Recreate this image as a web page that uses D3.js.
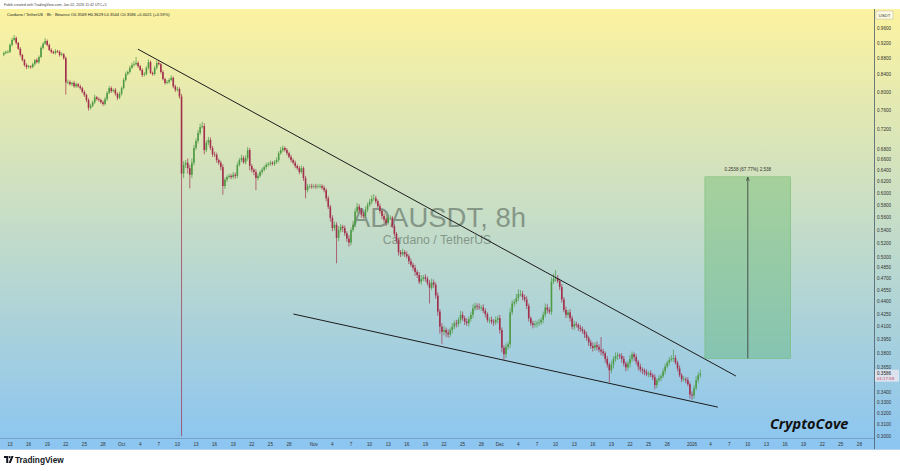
<!DOCTYPE html>
<html><head><meta charset="utf-8">
<script src="https://cdn.jsdelivr.net/npm/d3@7"></script>
<style>html,body{margin:0;padding:0;background:#fff;}svg{display:block;font-family:"Liberation Sans",Arial,sans-serif;}</style>
</head><body><svg id="c" width="900" height="471"></svg>
<script>
// ---------- DATA ----------
const startTime = Date.UTC(2025, 8, 12, 0); // first 8h candle
const candleHours = 8;
const firstOpen = 0.890;
const closes = [
0.894,0.897,0.897,0.915,0.928,0.933,0.920,0.905,0.889,0.876,
0.864,0.859,0.861,0.859,0.866,0.876,0.871,0.884,0.907,0.918,
0.925,0.915,0.902,0.897,0.894,0.899,0.897,0.889,0.891,0.881,
0.822,0.823,0.818,0.821,0.813,0.818,0.813,0.809,0.800,0.793,
0.782,0.765,0.769,0.777,0.788,0.784,0.782,0.777,0.773,0.784,
0.798,0.809,0.802,0.805,0.796,0.787,0.796,0.809,0.828,0.842,
0.847,0.857,0.864,0.866,0.869,0.861,0.852,0.840,0.842,0.857,
0.871,0.845,0.842,0.857,0.869,0.866,0.847,0.830,0.821,0.823,
0.828,0.833,0.813,0.805,0.807,0.790,0.634,0.650,0.654,0.644,
0.632,0.654,0.682,0.696,0.712,0.724,0.726,0.678,0.692,0.698,
0.682,0.670,0.669,0.659,0.654,0.646,0.612,0.623,0.628,0.630,
0.628,0.632,0.630,0.650,0.659,0.663,0.655,0.663,0.678,0.648,
0.641,0.637,0.626,0.630,0.637,0.641,0.646,0.650,0.652,0.654,
0.652,0.655,0.659,0.672,0.678,0.682,0.678,0.672,0.665,0.659,
0.654,0.648,0.644,0.637,0.644,0.626,0.605,0.611,0.612,0.611,
0.612,0.611,0.612,0.612,0.609,0.605,0.591,0.577,0.559,0.543,
0.548,0.528,0.540,0.545,0.543,0.535,0.527,0.521,0.540,0.548,
0.569,0.577,0.572,0.564,0.562,0.572,0.580,0.585,0.590,0.591,
0.586,0.578,0.570,0.562,0.556,0.551,0.559,0.559,0.546,0.534,
0.524,0.507,0.504,0.507,0.504,0.501,0.494,0.489,0.485,0.479,
0.475,0.466,0.470,0.472,0.470,0.464,0.458,0.465,0.462,0.448,
0.428,0.410,0.404,0.406,0.403,0.401,0.406,0.410,0.414,0.413,
0.418,0.424,0.420,0.416,0.414,0.419,0.424,0.432,0.435,0.434,
0.433,0.433,0.429,0.425,0.418,0.418,0.416,0.415,0.418,0.420,
0.406,0.386,0.379,0.387,0.390,0.427,0.438,0.440,0.445,0.450,
0.450,0.446,0.443,0.435,0.420,0.414,0.412,0.413,0.414,0.415,
0.418,0.424,0.433,0.430,0.428,0.466,0.470,0.471,0.467,0.459,
0.443,0.430,0.424,0.427,0.420,0.410,0.413,0.412,0.409,0.407,
0.405,0.401,0.397,0.392,0.388,0.386,0.389,0.387,0.384,0.382,
0.380,0.374,0.368,0.362,0.368,0.374,0.377,0.378,0.377,0.374,
0.369,0.365,0.369,0.374,0.379,0.376,0.371,0.366,0.363,0.362,
0.360,0.358,0.359,0.357,0.355,0.347,0.352,0.354,0.356,0.361,
0.366,0.370,0.373,0.374,0.375,0.370,0.364,0.357,0.353,0.353,
0.352,0.348,0.338,0.337,0.344,0.352,0.357,0.3586];
const upperWick = [
.004,.003,.005,.004,.006,.008,.004,.003,.004,.003,
.003,.004,.003,.002,.004,.003,.005,.004,.005,.004,
.008,.004,.003,.004,.003,.005,.003,.004,.005,.003,
.004,.006,.004,.003,.005,.004,.003,.004,.003,.004,
.003,.004,.005,.004,.006,.003,.004,.003,.004,.005,
.004,.005,.004,.003,.004,.003,.005,.004,.005,.006,
.004,.005,.006,.008,.015,.004,.003,.004,.005,.004,
.007,.004,.003,.005,.006,.004,.003,.004,.003,.005,
.004,.006,.003,.004,.005,.004,.006,.007,.005,.008,
.006,.008,.006,.005,.006,.007,.009,.006,.005,.006,
.005,.004,.005,.004,.003,.004,.005,.004,.003,.004,
.003,.005,.004,.005,.004,.006,.004,.005,.006,.004,
.004,.003,.005,.004,.003,.004,.003,.004,.003,.004,
.003,.004,.005,.004,.006,.005,.003,.004,.003,.004,
.003,.004,.003,.004,.005,.003,.004,.005,.003,.004,
.003,.004,.003,.004,.003,.004,.003,.004,.003,.004,
.005,.004,.006,.004,.003,.004,.003,.005,.004,.006,
.005,.006,.004,.003,.004,.005,.004,.005,.006,.007,
.004,.003,.004,.003,.004,.003,.005,.004,.003,.004,
.003,.004,.003,.005,.003,.004,.003,.004,.003,.004,
.003,.004,.005,.003,.004,.003,.004,.005,.004,.003,
.004,.003,.004,.005,.003,.004,.003,.004,.003,.004,
.003,.005,.004,.003,.004,.003,.004,.005,.004,.003,
.004,.003,.004,.003,.002,.003,.004,.003,.004,.003,
.004,.003,.003,.004,.003,.005,.004,.003,.005,.006,
.005,.004,.003,.004,.003,.002,.003,.004,.003,.004,
.003,.004,.005,.004,.003,.006,.007,.011,.004,.003,
.004,.003,.004,.003,.004,.003,.004,.003,.002,.003,
.003,.002,.003,.002,.003,.004,.003,.004,.003,.014,
.003,.002,.003,.002,.004,.003,.004,.003,.002,.003,
.003,.002,.003,.004,.003,.002,.003,.002,.003,.002,
.002,.003,.002,.003,.002,.003,.002,.003,.002,.003,
.003,.002,.003,.004,.009,.003,.002,.003,.002,.003,
.002,.003,.002,.003,.003,.004,.003,.0043];
const lowerWick = [
.004,.003,.004,.003,.004,.003,.004,.003,.004,.003,
.004,.005,.003,.004,.003,.004,.003,.004,.003,.004,
.003,.004,.003,.004,.003,.004,.003,.004,.003,.004,
.028,.004,.003,.004,.003,.004,.003,.004,.003,.004,
.005,.006,.004,.003,.004,.003,.004,.003,.004,.003,
.004,.003,.004,.003,.004,.005,.003,.004,.003,.004,
.003,.004,.003,.004,.003,.004,.003,.005,.004,.003,
.004,.003,.004,.003,.004,.003,.004,.003,.004,.003,
.004,.003,.004,.005,.004,.005,.334,.008,.006,.010,
.024,.006,.005,.004,.005,.004,.003,.008,.004,.005,
.004,.005,.004,.005,.004,.006,.015,.005,.004,.003,
.004,.003,.005,.004,.003,.004,.003,.004,.005,.008,
.005,.006,.021,.004,.003,.004,.003,.004,.003,.004,
.003,.004,.003,.004,.003,.004,.003,.004,.003,.004,
.003,.004,.003,.004,.003,.005,.014,.004,.003,.004,
.003,.004,.003,.004,.003,.004,.005,.004,.006,.005,
.004,.037,.005,.004,.006,.004,.005,.006,.004,.003,
.004,.003,.004,.005,.004,.003,.004,.003,.004,.003,
.004,.003,.004,.005,.004,.005,.003,.004,.003,.004,
.004,.005,.004,.003,.004,.003,.004,.003,.004,.005,
.004,.003,.004,.003,.004,.003,.020,.003,.004,.004,
.005,.008,.014,.004,.005,.004,.003,.004,.003,.004,
.003,.004,.003,.004,.003,.004,.003,.004,.003,.004,
.003,.004,.003,.004,.003,.004,.003,.004,.003,.004,
.004,.005,.006,.004,.003,.004,.003,.004,.003,.004,
.003,.004,.003,.004,.004,.003,.004,.003,.004,.003,
.003,.004,.003,.004,.003,.004,.003,.004,.003,.004,
.004,.003,.004,.003,.004,.003,.004,.003,.004,.003,
.003,.004,.003,.004,.003,.004,.003,.004,.003,.004,
.003,.004,.003,.012,.003,.004,.003,.004,.003,.004,
.003,.004,.003,.004,.003,.004,.003,.004,.003,.004,
.003,.002,.003,.002,.003,.004,.003,.002,.003,.002,
.003,.002,.003,.002,.003,.002,.003,.002,.003,.002,
.003,.002,.004,.004,.003,.002,.003,.0026];

const priceTicks = [0.96,0.92,0.88,0.84,0.80,0.76,0.72,0.68,0.66,0.64,0.62,0.60,0.58,0.56,0.54,0.52,0.50,
  0.485,0.47,0.455,0.44,0.425,0.41,0.395,0.38,0.365,0.34,0.33,0.32,0.31,0.30];
const tickDays = [1,4,7,10,13,16,19,22,25,28];
const tickMonths = [{y:2025,m:8,label:"Sep",from:13},{y:2025,m:9,label:"Oct",from:1},{y:2025,m:10,label:"Nov",from:1},{y:2025,m:11,label:"Dec",from:1},{y:2026,m:0,label:"2026",from:1}];

// drawings
const upperTrend = [{t:Date.UTC(2025,9,3,15), p:0.904},{t:Date.UTC(2026,0,8,2), p:0.3562}];
const lowerTrend = [{t:Date.UTC(2025,9,28,17), p:0.425},{t:Date.UTC(2026,0,5,4), p:0.326}];
const targetBox = {t0:Date.UTC(2026,0,3,2), t1:Date.UTC(2026,0,16,22), p0:0.3745, p1:0.6283};
const targetLabel = "0.2538 (67.77%) 2,538";
const lastPrice = "0.3586", countdown = "01:17:59";
const headerLine1 = "Fabik created with TradingView.com, Jan 02, 2026 11:42 UTC+5";
const headerLine2 = "Cardano / TetherUS · 8h · Binance  O0.3569  H0.3629  L0.3544  C0.3586  +0.0021 (+0.59%)";

// ---------- CHART ----------
const W = 900, H = 471;
const plotR = 874, plotT = 9, plotB = 438, axisB = 449;
const svg = d3.select("#c");
const defs = svg.append("defs");
const g1 = defs.append("linearGradient").attr("id","bg").attr("x1",0).attr("y1",0).attr("x2",0).attr("y2",1);
g1.append("stop").attr("offset","0%").attr("stop-color","#fcf3a0");
g1.append("stop").attr("offset","100%").attr("stop-color","#8bc5f1");
defs.append("clipPath").attr("id","plot").append("rect").attr("x",0).attr("y",plotT).attr("width",plotR).attr("height",plotB-plotT);
defs.append("marker").attr("id","arr").attr("viewBox","0 0 10 10").attr("refX",9).attr("refY",5)
  .attr("markerWidth",5).attr("markerHeight",5).attr("orient","auto")
  .append("path").attr("d","M0,1 L9,5 L0,9").attr("fill","none").attr("stroke","#333").attr("stroke-width",1.5);

svg.append("rect").attr("x",0).attr("y",plotT).attr("width",W).attr("height",axisB-plotT).attr("fill","url(#bg)");

const x = d3.scaleUtc().domain([Date.UTC(2025,8,13), Date.UTC(2026,0,28)]).range([10, 859.4]);
const y = d3.scaleLog().domain([1.0, 0.30]).range([13.7, 436.3]);

// axes lines
svg.append("line").attr("x1",0).attr("x2",plotR).attr("y1",plotB+0.5).attr("y2",plotB+0.5).attr("stroke","#6a8aa8").attr("stroke-width",0.6);
svg.append("line").attr("x1",plotR+0.5).attr("x2",plotR+0.5).attr("y1",plotT).attr("y2",axisB).attr("stroke","#4a5a6a").attr("stroke-width",0.8);
svg.append("line").attr("x1",0).attr("x2",W).attr("y1",axisB+0.5).attr("y2",axisB+0.5).attr("stroke","#7fb3de").attr("stroke-width",0.6);

// watermark
svg.append("text").attr("x",439).attr("y",227).attr("text-anchor","middle").attr("font-size",27.5)
  .attr("fill","#6f7f72").attr("fill-opacity",0.75).text("ADAUSDT, 8h");
svg.append("text").attr("x",437).attr("y",244).attr("text-anchor","middle").attr("font-size",12.3)
  .attr("fill","#6f7f72").attr("fill-opacity",0.75).text("Cardano / TetherUS");

// candles
const candles = closes.map((c,i)=>{
  const o = i===0 ? firstOpen : closes[i-1];
  return {t:new Date(startTime + i*candleHours*3600e3), o, c,
          h:Math.max(o,c)+upperWick[i], l:Math.min(o,c)-lowerWick[i]};
});
const cg = svg.append("g").attr("clip-path","url(#plot)");
const upC = "#4f9a45", dnC = "#a2304c";
cg.selectAll("line.w").data(candles).join("line").attr("class","w")
  .attr("x1",d=>x(d.t)).attr("x2",d=>x(d.t)).attr("y1",d=>y(d.h)).attr("y2",d=>y(d.l))
  .attr("stroke",d=>d.c>=d.o?upC:dnC).attr("stroke-width",0.7);
cg.selectAll("rect.b").data(candles).join("rect").attr("class","b")
  .attr("x",d=>x(d.t)-0.8).attr("width",1.6)
  .attr("y",d=>y(Math.max(d.o,d.c)))
  .attr("height",d=>Math.max(0.6, y(Math.min(d.o,d.c))-y(Math.max(d.o,d.c))))
  .attr("fill",d=>d.c>=d.o?upC:dnC);

// trend lines
const ln = d3.line().x(d=>x(d.t)).y(d=>y(d.p));
cg.append("path").attr("d",ln(upperTrend)).attr("stroke","#1c1c1c").attr("stroke-width",1).attr("fill","none");
cg.append("path").attr("d",ln(lowerTrend)).attr("stroke","#1c1c1c").attr("stroke-width",1).attr("fill","none");

// target box
const bx0 = x(targetBox.t0), bx1 = x(targetBox.t1), by0 = y(targetBox.p1), by1 = y(targetBox.p0);
cg.append("rect").attr("x",bx0).attr("y",by0).attr("width",bx1-bx0).attr("height",by1-by0)
  .attr("fill","#4caf50").attr("fill-opacity",0.32).attr("stroke","#6dbb6a").attr("stroke-width",0.5);
const bxm = (bx0+bx1)/2;
cg.append("line").attr("x1",bxm).attr("x2",bxm).attr("y1",by1).attr("y2",by0+0.5)
  .attr("stroke","#333").attr("stroke-width",0.8).attr("marker-end","url(#arr)");
svg.append("text").attr("x",bxm).attr("y",by0-6).attr("text-anchor","middle").attr("font-size",4.6)
  .attr("fill","#333").text(targetLabel);

// price axis
const pa = svg.append("g").attr("font-size",4.6).attr("fill","#333");
pa.selectAll("text").data(priceTicks).join("text").attr("x",877).attr("y",d=>y(d)+1.6).text(d=>d3.format(".4f")(d));
svg.append("rect").attr("x",876).attr("y",11).attr("width",17).attr("height",8).attr("fill","#ffffff").attr("fill-opacity",0.7).attr("stroke","#aaa").attr("stroke-width",0.4);
svg.append("text").attr("x",884.5).attr("y",16.6).attr("text-anchor","middle").attr("font-size",4.4).attr("fill","#333").text("USDT");
const lp = y(+lastPrice);
svg.append("rect").attr("x",875).attr("y",lp-4).attr("width",24).attr("height",12).attr("fill","#e3e6ee").attr("fill-opacity",0.9);
svg.append("text").attr("x",877).attr("y",lp+1.6).attr("font-size",4.6).attr("fill","#222").text(lastPrice);
svg.append("text").attr("x",877).attr("y",lp+6.6).attr("font-size",4.4).attr("fill","#c8375a").text(countdown);

// time axis
const ticks = [];
tickMonths.forEach(mo=>tickDays.forEach(d=>{ if(d>=mo.from) ticks.push({t:Date.UTC(mo.y,mo.m,d), label: d===1?mo.label:String(d)}); }));
svg.append("g").attr("font-size",4.6).attr("fill","#333").attr("text-anchor","middle")
  .selectAll("text").data(ticks).join("text").attr("x",d=>x(d.t)).attr("y",445.5).text(d=>d.label);

// header
svg.append("rect").attr("x",0).attr("y",0).attr("width",W).attr("height",plotT).attr("fill","#fff");
svg.append("text").attr("x",4).attr("y",5.8).attr("font-size",3.6).attr("fill","#444").text(headerLine1);
svg.append("text").attr("x",7).attr("y",16).attr("font-size",4.1).attr("fill","#222").text(headerLine2);

// CryptoCove
svg.append("text").attr("x",770).attr("y",429).attr("font-size",14.5).attr("font-weight","bold").attr("font-style","italic")
  .attr("font-family","'Open Sans',sans-serif").attr("fill","#111").text("CryptoCove");

// TradingView logo
const tv = svg.append("g").attr("transform","translate(4,456)");
tv.append("path").attr("d","M0,0 H4.2 V7 H2.2 V2 H0 Z").attr("fill","#131722");
tv.append("circle").attr("cx",5.6).attr("cy",1.1).attr("r",1.1).attr("fill","#131722");
tv.append("path").attr("d","M7.4,0 H9.6 L6.8,7 H4.6 Z").attr("fill","#131722");
svg.append("text").attr("x",15).attr("y",463).attr("font-size",8.3).attr("font-weight","bold").attr("fill","#131722").text("TradingView");
</script></body></html>
